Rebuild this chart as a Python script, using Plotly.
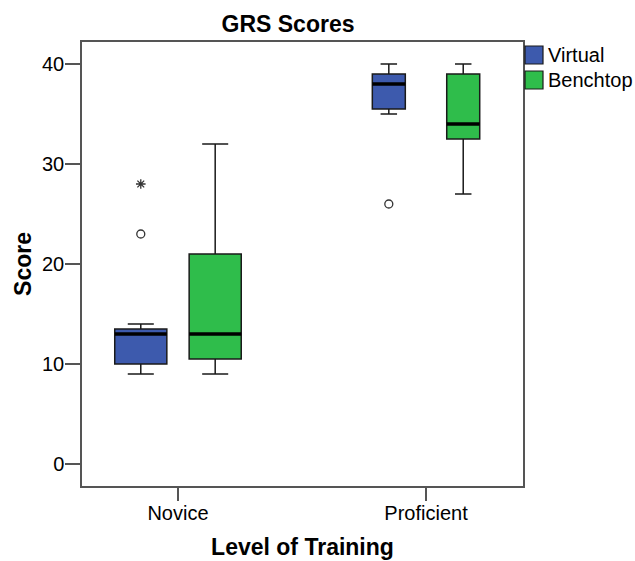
import plotly.graph_objects as go

levels = ["Novice", "Proficient"]
groups = ["Virtual", "Benchtop"]
colors = {"Virtual": "#3d5aad", "Benchtop": "#2fbd4b"}

# five-number summaries per group, ordered as levels
lower_whisker = {"Virtual": [9, 35], "Benchtop": [9, 27]}
q1_vals = {"Virtual": [10, 35.5], "Benchtop": [10.5, 32.5]}
medians = {"Virtual": [13, 38], "Benchtop": [13, 34]}
q3_vals = {"Virtual": [13.5, 39], "Benchtop": [21, 39]}
upper_whisker = {"Virtual": [14, 40], "Benchtop": [32, 40]}

# outliers: group, level index, value, kind
outlier_group = ["Virtual", "Virtual", "Virtual"]
outlier_level = [0, 0, 1]
outlier_value = [23, 28, 26]
outlier_kind = ["circle", "extreme", "circle"]

offsets = {"Virtual": -0.15, "Benchtop": 0.15}
box_widths = [0.21, 0.133]

FONT = "Arial, Liberation Sans, sans-serif"
W, H = 635, 561
ML, MR, MT, MB = 82, 112, 42, 75
PW, PH = W - ML - MR, H - MT - MB

fig = go.Figure()
for g in groups:
    for i, lev in enumerate(levels):
        pos = i + offsets[g]
        fig.add_trace(go.Box(
            x=[pos], q1=[q1_vals[g][i]], median=[medians[g][i]], q3=[q3_vals[g][i]],
            lowerfence=[lower_whisker[g][i]], upperfence=[upper_whisker[g][i]],
            width=box_widths[i], whiskerwidth=0.5,
            fillcolor=colors[g], line=dict(color="#1a1a1a", width=1.5),
            name=g, legendgroup=g, showlegend=False, hoverinfo="skip",
        ))
        # thick median line
        fig.add_trace(go.Scatter(
            x=[pos - box_widths[i] / 2, pos + box_widths[i] / 2],
            y=[medians[g][i], medians[g][i]],
            mode="lines", line=dict(color="black", width=3.5),
            showlegend=False, hoverinfo="skip",
        ))

for g, li, v, k in zip(outlier_group, outlier_level, outlier_value, outlier_kind):
    fig.add_trace(go.Scatter(
        x=[li + offsets[g]], y=[v], mode="markers",
        marker=dict(symbol="circle-open" if k == "circle" else "asterisk-open",
                    size=8,
                    color="#333333", line=dict(color="#333333", width=1.3)),
        showlegend=False, hoverinfo="skip",
    ))

# legend (swatches + labels), placed in paper coordinates
def px_x(x):
    return (x - ML) / PW

def px_y(y):
    return (H - MB - y) / PH

for j, g in enumerate(groups):
    top = 46 + j * 25
    fig.add_shape(type="rect", xref="paper", yref="paper",
                  x0=px_x(525), x1=px_x(543), y0=px_y(top + 18), y1=px_y(top),
                  fillcolor=colors[g], line=dict(color="#1a1a1a", width=1.2))
    fig.add_annotation(xref="paper", yref="paper", x=px_x(546), y=px_y(top + 9),
                       xanchor="left", yanchor="middle", text=g, showarrow=False,
                       font=dict(size=20, family=FONT, color="black"))

fig.update_layout(
    width=W, height=H,
    margin=dict(l=ML, r=MR, t=MT, b=MB, autoexpand=False),
    paper_bgcolor="white", plot_bgcolor="white",
    font=dict(family=FONT, size=20, color="black"),
    title=dict(text="<b>GRS Scores</b>", x=288 / W, xanchor="center",
               y=1 - 24 / H, yanchor="middle", font=dict(size=23, family=FONT)),
    showlegend=False,
    xaxis=dict(
        range=[-0.387, 1.391], tickvals=[0, 1], ticktext=levels,
        ticks="outside", ticklen=13, tickwidth=1.5, tickcolor="#555555",
        showline=True, linecolor="#555555", linewidth=1.5, mirror=True,
        showgrid=False, zeroline=False, automargin=False,
        title=dict(text="<b>Level of Training</b>", font=dict(size=23, family=FONT), standoff=16),
        tickfont=dict(size=20), ticklabelstandoff=-5,
    ),
    yaxis=dict(
        range=[-2.2, 42.2], tickvals=[0, 10, 20, 30, 40],
        ticks="outside", ticklen=15, tickwidth=1.5, tickcolor="#555555",
        showline=True, linecolor="#555555", linewidth=1.5, mirror=True,
        showgrid=False, zeroline=False, automargin=False,
        title=dict(text="<b>Score</b>", font=dict(size=23, family=FONT), standoff=4),
        tickfont=dict(size=20), ticklabelstandoff=-3,
    ),
)

fig.write_html("out.html")
